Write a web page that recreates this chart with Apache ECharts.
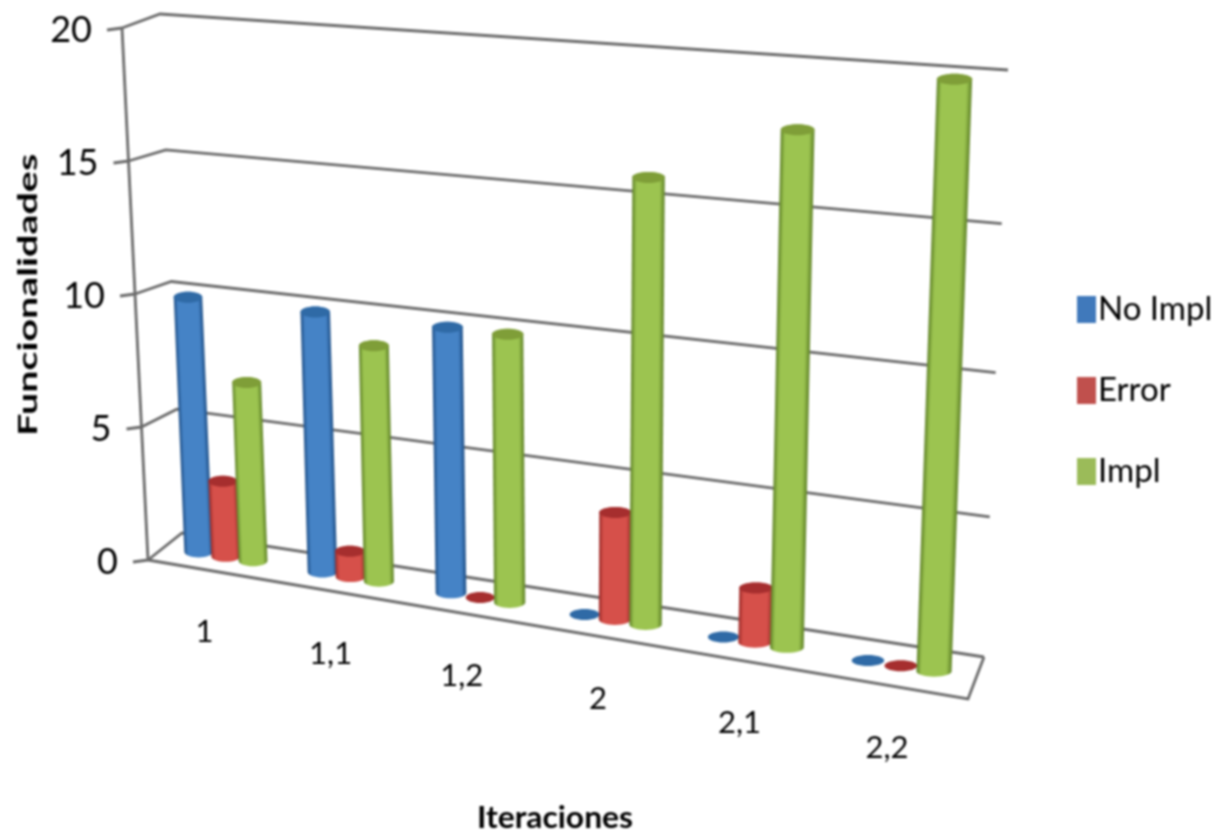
<!DOCTYPE html>
<html style="height: 100%">
<head>
<meta charset="utf-8">
<script src="https://cdn.jsdelivr.net/npm/echarts@6/dist/echarts.min.js"></script>
</head>
<body style="height: 100%; margin: 0; background: #fff">
<div id="container" style="width: 1226px; height: 838px; filter: blur(1px)"></div>
<script>
var categories = ['1', '1,1', '1,2', '2', '2,1', '2,2'];
var noImpl = [10, 10, 10, 0, 0, 0];
var errorVals = [3, 1, 0, 4, 2, 0];
var impl = [7, 9, 10, 16, 18, 20];
var yTicks = [0, 5, 10, 15, 20];

var font = 'Lato';
var gridColor = '#6a6a6a';
var textColor = '#000';

// box corners of the fake 3D plot, [x, y] in pixels: f = front, b = back, l/r, 0/1 = floor/top
var box = {
    fl0: [148, 560], fr0: [968, 699], fl1: [122, 28], fr1: [990, 91],
    bl0: [182, 533], br0: [984, 657], bl1: [160, 14], br1: [1008, 70]
};

function warp(t, k) {
    return t * (1 - k) / (1 - k * t);
}
function mix(p, q, t) {
    return [p[0] + (q[0] - p[0]) * t, p[1] + (q[1] - p[1]) * t];
}
// a: along the categories, h: along the values, d: depth (all 0..1)
function project(a, h, d) {
    var aw = warp(a, 0.11);
    var hw = warp(h, 0.06 * d);
    var front = mix(mix(box.fl0, box.fr0, aw), mix(box.fl1, box.fr1, aw), hw);
    var back = mix(mix(box.bl0, box.br0, aw), mix(box.bl1, box.br1, aw), hw);
    return mix(front, back, d);
}
function toUnit(params, api, point) {
    var cs = params.coordSys;
    var pt = api.coord(point);
    return [(pt[0] - cs.x) / cs.width, (cs.y + cs.height - pt[1]) / cs.height];
}
function line(points) {
    return {
        type: 'polyline',
        shape: {points: points},
        style: {stroke: gridColor, lineWidth: 2.8, fill: null},
        silent: true
    };
}

function renderWalls(params, api) {
    var u = toUnit(params, api, [0, api.value(1)]);
    var h = u[1];
    var p0 = project(0, h, 0);
    var children = [
        line([p0, project(0, h, 1), project(1, h, 1)]),
        line([[p0[0] - 15, p0[1] + 2], p0]),
        {
            type: 'text',
            style: {
                text: String(api.value(1)),
                x: p0[0] - 30, y: p0[1] + 2,
                align: 'right', verticalAlign: 'middle',
                font: '36px ' + font, fill: textColor
            }
        }
    ];
    if (h === 0) {
        children.push(line([p0, project(1, 0, 0), project(1, 0, 1)]));
        children.push(line([p0, project(0, 1, 0)]));
    }
    return {type: 'group', children: children};
}

function renderCatLabel(params, api) {
    var u = toUnit(params, api, [api.value(0), 0]);
    var p = project(u[0], 0, 0);
    return {
        type: 'text',
        style: {
            text: categories[api.value(0)],
            x: p[0] - 5, y: p[1] + 62,
            align: 'center', verticalAlign: 'middle',
            font: '31px ' + font, fill: textColor
        }
    };
}

// one cylinder per data item
function cylinder(colors, offset) {
    return function (params, api) {
        var val = api.value(1);
        var u = toUnit(params, api, [api.value(0), val]);
        var a = u[0] + offset;
        var r = 0.0195;
        var base = project(a, 0, 0.5);
        var top = project(a, warp(u[1], 0.035) * 0.997, 0.5);
        var rx = (project(a + r, 0, 0.5)[0] - project(a - r, 0, 0.5)[0]) / 2;
        var ry = 5.5;
        if (val === 0) {
            return {
                type: 'ellipse',
                shape: {cx: base[0], cy: base[1], rx: rx - 1, ry: ry},
                style: {fill: colors.cap}
            };
        }
        var pts = [];
        var i, t;
        for (i = 0; i <= 16; i++) {
            t = Math.PI * i / 16;
            pts.push([base[0] - rx * Math.cos(t), base[1] + ry * Math.sin(t)]);
        }
        for (i = 0; i <= 16; i++) {
            t = Math.PI * i / 16;
            pts.push([top[0] + rx * Math.cos(t), top[1] - ry * Math.sin(t)]);
        }
        // gradient runs square to the leaning cylinder axis
        var dx = top[0] - base[0];
        var dy = top[1] - base[1];
        var len = Math.sqrt(dx * dx + dy * dy);
        var nx = -dy / len;
        var ny = dx / len;
        return {
            type: 'group',
            children: [
                {
                    type: 'polygon',
                    shape: {points: pts},
                    style: {
                        fill: new echarts.graphic.LinearGradient(
                            base[0] - rx * nx, base[1] - rx * ny,
                            base[0] + rx * nx, base[1] + rx * ny,
                            [
                                {offset: 0, color: colors.edge},
                                {offset: 0.14, color: colors.main},
                                {offset: 0.84, color: colors.main},
                                {offset: 1, color: colors.edge}
                            ], true)
                    }
                },
                {
                    type: 'ellipse',
                    shape: {cx: top[0], cy: top[1], rx: rx, ry: ry},
                    style: {fill: colors.cap}
                }
            ]
        };
    };
}

function pairs(values) {
    return values.map(function (v, i) { return [i, v]; });
}
function barSeries(name, values, colors, offset, legendColor) {
    return {
        name: name,
        type: 'custom',
        renderItem: cylinder(colors, offset),
        itemStyle: {color: legendColor},
        encode: {x: 0, y: 1},
        data: pairs(values),
        silent: true,
        z: 3
    };
}

var myChart = echarts.init(document.getElementById('container'), null, {renderer: 'canvas'});
var option = {
    animation: false,
    backgroundColor: '#fff',
    grid: {left: 148, top: 28, width: 820, height: 532},
    xAxis: {type: 'category', data: categories, show: false},
    yAxis: {type: 'value', min: 0, max: 20, interval: 5, show: false},
    legend: {
        data: ['No Impl', 'Error', 'Impl'],
        orient: 'vertical',
        left: 1072,
        top: 288,
        icon: 'rect',
        itemWidth: 19,
        itemHeight: 27,
        itemGap: 48,
        selectedMode: false,
        textStyle: {fontFamily: font, fontSize: 33, lineHeight: 27, color: textColor, padding: [0, 0, 0, -3]}
    },
    series: [
        {
            type: 'custom',
            name: 'walls',
            renderItem: renderWalls,
            encode: {x: 0, y: 1},
            data: yTicks.map(function (v) { return [0, v]; }),
            silent: true,
            z: 1
        },
        {
            type: 'custom',
            name: 'labels',
            renderItem: renderCatLabel,
            encode: {x: 0, y: 1},
            data: categories.map(function (c, i) { return [i, 0]; }),
            silent: true,
            z: 1
        },
        barSeries('No Impl', noImpl, {main: '#4583c6', edge: '#1f4f86', cap: '#2f6aa6'}, -0.037, '#4079bb'),
        barSeries('Error', errorVals, {main: '#d6504a', edge: '#9c2c2a', cap: '#a62e2e'}, 0, '#c0504d'),
        barSeries('Impl', impl, {main: '#9cc450', edge: '#5f8228', cap: '#7f9e38'}, 0.037, '#9bbb59')
    ],
    graphic: [
        {
            type: 'text',
            x: 42,
            y: 436,
            rotation: Math.PI / 2,
            scaleX: 1.46,
            style: {text: 'Funcionalidades', x: 0, y: 0, verticalAlign: 'bottom', font: 'bold 27px ' + font, fill: textColor}
        },
        {
            type: 'text',
            x: 477,
            y: 803,
            scaleX: 1.06,
            style: {text: 'Iteraciones', x: 0, y: 0, font: 'bold 30px ' + font, fill: textColor}
        }
    ]
};
myChart.setOption(option);
</script>
</body>
</html>
